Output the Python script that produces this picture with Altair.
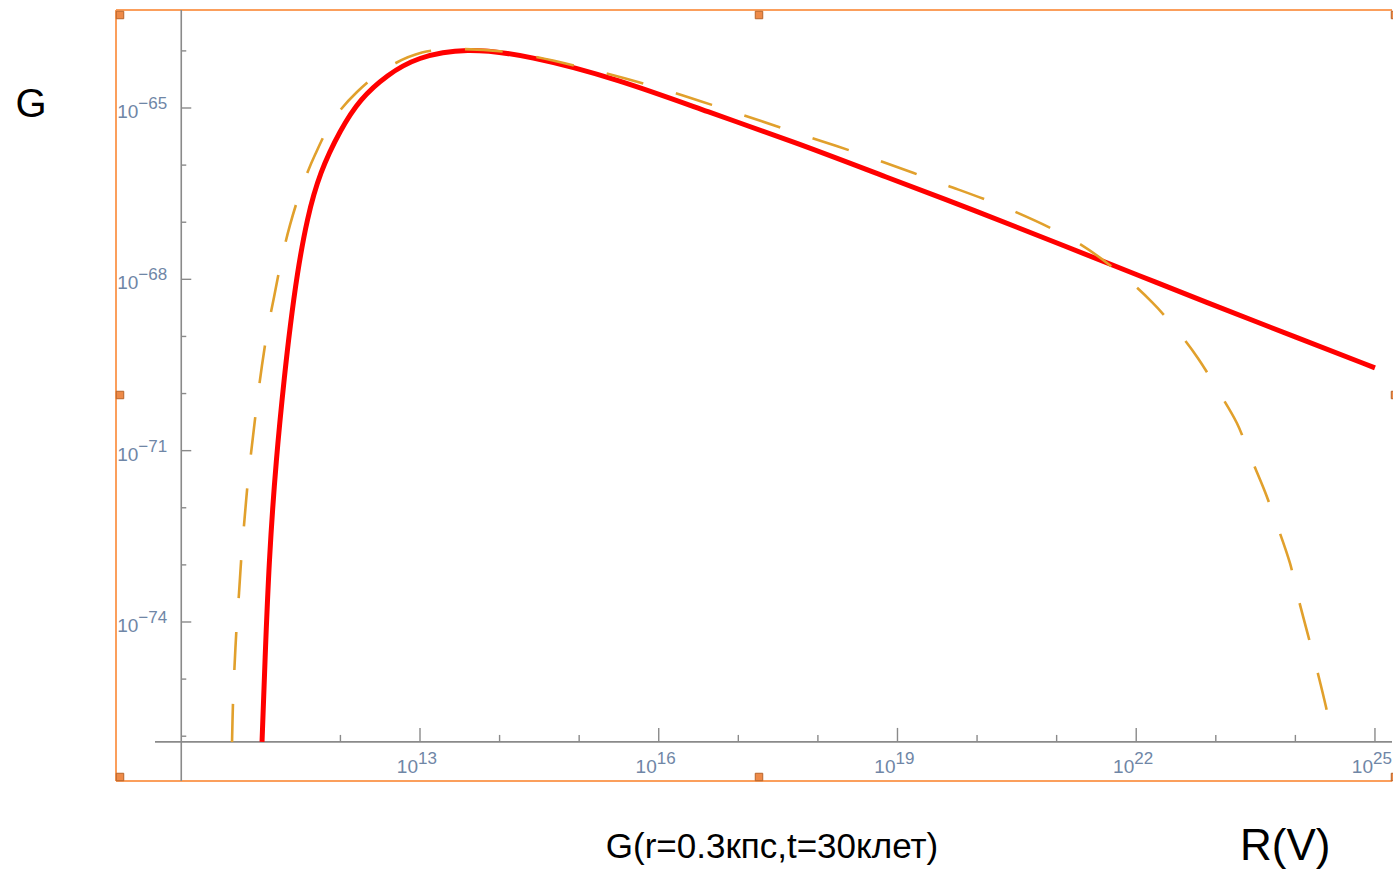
import altair as alt
import pandas as pd

# ---- data (log10 values) ----
red_logR = [11.015, 11.052, 11.103, 11.190, 11.304, 11.366, 11.454, 11.580, 11.743, 11.995,
            12.246, 12.585, 12.962, 13.565, 14.370, 15.501, 16.619, 17.737, 18.856, 19.987,
            21.105, 22.048, 22.802, 24.058, 25.000]
red_logG = [-76.10, -74.67, -72.91, -71.16, -69.59, -68.85, -67.92, -66.93, -66.12, -65.39,
            -64.84, -64.42, -64.11, -63.94, -64.08, -64.50, -65.07, -65.61, -66.21, -66.80,
            -67.42, -67.94, -68.36, -69.04, -69.55]

dash_logR = [10.638, 10.650, 10.669, 10.694, 10.726, 10.757, 10.795, 10.839, 10.889, 10.945,
             11.015, 11.084, 11.166, 11.253, 11.366, 11.517, 11.681, 11.907, 12.208, 12.585,
             13.025, 13.503, 14.144, 15.099, 16.003, 16.896, 17.763, 18.667, 19.534, 20.401,
             21.243, 21.821, 22.198, 22.487, 22.776, 23.015, 23.266, 23.430, 23.618, 23.769,
             23.932, 24.033, 24.159, 24.272, 24.385, 24.473]
dash_logG = [-76.10, -75.42, -74.79, -74.12, -73.49, -72.83, -72.20, -71.51, -70.90, -70.24,
             -69.50, -68.89, -68.31, -67.70, -67.05, -66.38, -65.82, -65.21, -64.72, -64.30,
             -64.03, -63.97, -64.03, -64.31, -64.65, -65.05, -65.45, -65.87, -66.31, -66.77,
             -67.34, -67.92, -68.40, -68.85, -69.38, -69.92, -70.52, -71.09, -71.72, -72.30,
             -72.97, -73.56, -74.23, -74.84, -75.49, -76.10]

x_major = [13, 16, 19, 22, 25]
x_minor = [11, 12, 14, 15, 17, 18, 20, 21, 23, 24]
y_major = [-65, -68, -71, -74]
y_minor = [-64, -66, -67, -69, -70, -72, -73, -75, -76]
x_exps = ["13", "16", "19", "22", "25"]
y_exps = ["\u221265", "\u221268", "\u221271", "\u221274"]

AXIS_X = 10.0
AXIS_Y = -76.1

# ---- layout ----
PXX = 79.58   # px per decade in x
PXY = 57.11   # px per decade in y
LEFT, TOP = 116, 10
W, H = 1276, 771
X0 = 13 - (420 - LEFT) / PXX
X1 = X0 + W / PXX
Y1 = -65 + (108 - TOP) / PXY
Y0 = Y1 - H / PXY

def px2x(px):
    return 13 + (px - 420) / PXX

def py2y(py):
    return -65 - (py - 108) / PXY

xs = alt.Scale(domain=[X0, X1], nice=False, zero=False)
ys = alt.Scale(domain=[Y0, Y1], nice=False, zero=False)

FONT = "Liberation Sans"
ORANGE = "#fb9f5c"
AXC = "#8a8a8a"
LABC = "#6f86a6"

def X(f):
    return alt.X(f, type="quantitative", scale=xs, axis=None)

def Y(f):
    return alt.Y(f, type="quantitative", scale=ys, axis=None)

# frame (selection box)
frame_df = pd.DataFrame({"x": [X0, X0, X0], "x2": [X1, X1, X0],
                         "y": [Y1, Y0, Y0], "y2": [Y1, Y0, Y1]})
frame = alt.Chart(frame_df).mark_rule(color=ORANGE, strokeWidth=2).encode(
    x=X("x"), x2="x2", y=Y("y"), y2="y2")

hx = [120, 759, 1395]
hy = [15, 395, 777]
hpts = [(a, b) for a in hx for b in hy if not (a == 759 and b == 395)]
handles_df = pd.DataFrame({"x": [px2x(a) for a, b in hpts], "y": [py2y(b) for a, b in hpts]})
handles = alt.Chart(handles_df).mark_square(size=56, fill="#ee8a48", stroke="#b8642a",
                                            strokeWidth=1, opacity=1).encode(x=X("x"), y=Y("y"))

# axes
axes_df = pd.DataFrame({"x": [AXIS_X, px2x(155)], "x2": [AXIS_X, X1],
                        "y": [Y0, AXIS_Y], "y2": [Y1, AXIS_Y]})
axes = alt.Chart(axes_df).mark_rule(color=AXC, strokeWidth=1.6).encode(
    x=X("x"), x2="x2", y=Y("y"), y2="y2")

xt_df = pd.DataFrame({"x": x_major + x_minor,
                      "y": [AXIS_Y] * (len(x_major) + len(x_minor)),
                      "y2": [AXIS_Y + 14 / PXY] * len(x_major) + [AXIS_Y + 7 / PXY] * len(x_minor)})
xticks = alt.Chart(xt_df).mark_rule(color=AXC, strokeWidth=1.4).encode(
    x=X("x"), y=Y("y"), y2="y2")

yt_df = pd.DataFrame({"y": y_major + y_minor,
                      "x": [AXIS_X] * (len(y_major) + len(y_minor)),
                      "x2": [AXIS_X + 10 / PXX] * len(y_major) + [AXIS_X + 5 / PXX] * len(y_minor)})
yticks = alt.Chart(yt_df).mark_rule(color=AXC, strokeWidth=1.4).encode(
    x=X("x"), x2="x2", y=Y("y"))

# tick labels
xl_df = pd.DataFrame({"x": x_major, "y": [AXIS_Y] * len(x_major), "e": x_exps})
xl_base = alt.Chart(xl_df).mark_text(text="10", align="right", baseline="alphabetic", dx=-2, dy=31,
                                     font=FONT, fontSize=19, color=LABC).encode(x=X("x"), y=Y("y"))
xl_exp = alt.Chart(xl_df).mark_text(align="left", baseline="alphabetic", dx=-2, dy=22,
                                    font=FONT, fontSize=17, color=LABC).encode(
    x=X("x"), y=Y("y"), text="e:N")

yl_df = pd.DataFrame({"y": y_major, "x": [AXIS_X] * len(y_major), "e": y_exps})
yl_base = alt.Chart(yl_df).mark_text(text="10", align="left", baseline="alphabetic", dx=-64, dy=10,
                                     font=FONT, fontSize=19, color=LABC).encode(x=X("x"), y=Y("y"))
yl_exp = alt.Chart(yl_df).mark_text(align="left", baseline="alphabetic", dx=-43, dy=1,
                                    font=FONT, fontSize=17, color=LABC).encode(
    x=X("x"), y=Y("y"), text="e:N")

# curves
red_df = pd.DataFrame({"r": red_logR, "g": red_logG})
red = alt.Chart(red_df).mark_line(color="#ff0000", strokeWidth=5, interpolate="basis",
                                  strokeCap="butt", strokeJoin="round").encode(
    x=X("r"), y=Y("g"), order="r:Q")

dash_df = pd.DataFrame({"r": dash_logR, "g": dash_logG})
dash = alt.Chart(dash_df).mark_line(color="#e1a02c", strokeWidth=2.6, interpolate="catmull-rom",
                                    strokeDash=[38, 34], strokeCap="butt").encode(
    x=X("r"), y=Y("g"), order="r:Q")

# outer texts
one = pd.DataFrame({"k": [0]})
t_g = alt.Chart(one).mark_text(text="G", align="center", baseline="alphabetic", font=FONT,
                               fontSize=40, color="#000000").encode(x=alt.value(31 - LEFT), y=alt.value(117 - TOP))
t_title = alt.Chart(one).mark_text(text="G(r=0.3кпс,t=30клет)", align="center", baseline="alphabetic",
                                   font=FONT, fontSize=35, color="#000000").encode(
    x=alt.value(772 - LEFT), y=alt.value(858 - TOP))
t_rv = alt.Chart(one).mark_text(text="R(V)", align="left", baseline="alphabetic", font=FONT,
                                fontSize=44, color="#000000").encode(x=alt.value(1240 - LEFT), y=alt.value(860 - TOP))

chart = alt.layer(
    frame, axes, xticks, yticks, xl_base, xl_exp, yl_base, yl_exp,
    red, dash, handles, t_g, t_title, t_rv
).properties(
    width=W, height=H,
    padding={"left": LEFT, "top": TOP, "right": 1, "bottom": 90},
    autosize=alt.AutoSizeParams(type="none"),
    background="white",
).configure_view(stroke=None)

chart.save("out.html", embed_options={"renderer": "svg", "actions": False})
